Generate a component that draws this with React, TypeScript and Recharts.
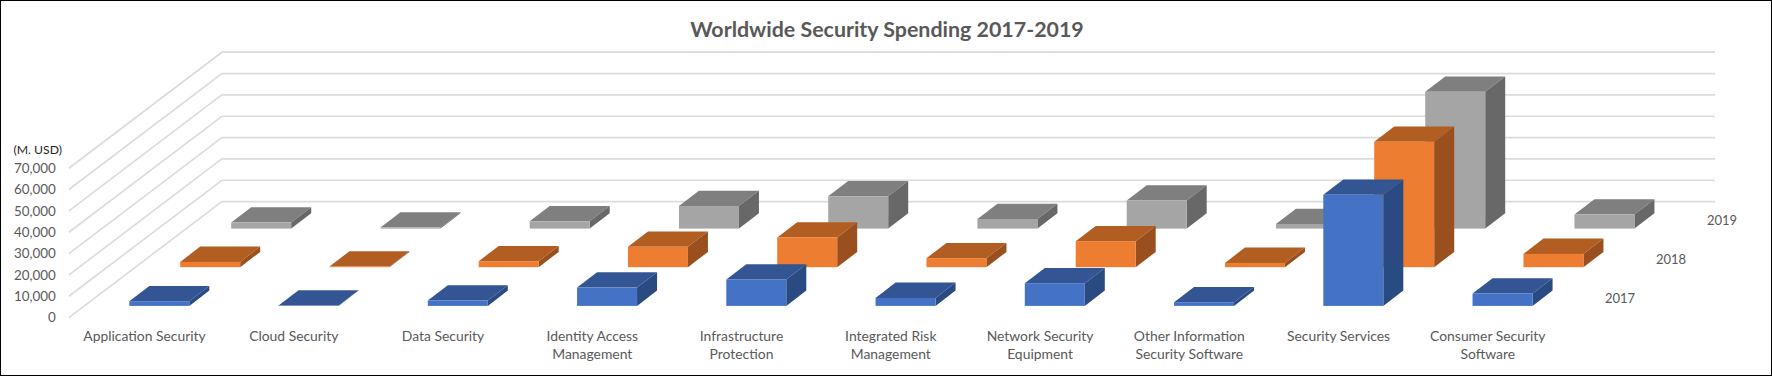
import React from "react";
import { ComposedChart, Bar, XAxis, YAxis, CartesianGrid } from "recharts";

const TITLE = "Worldwide Security Spending 2017-2019";
const UNIT = "(M. USD)";
const categories = [
  "Application Security",
  "Cloud Security",
  "Data Security",
  "Identity Access Management",
  "Infrastructure Protection",
  "Integrated Risk Management",
  "Network Security Equipment",
  "Other Information Security Software",
  "Security Services",
  "Consumer Security Software",
];
const values2017 = [2200, 190, 2530, 8600, 12380, 3750, 10640, 1730, 52030, 5800];
const values2018 = [2490, 300, 2810, 9540, 13900, 4220, 12190, 2020, 58750, 6240];
const values2019 = [2810, 460, 3420, 10600, 15150, 4500, 13130, 2170, 64080, 6560];
const yTicks = [0, 10000, 20000, 30000, 40000, 50000, 60000, 70000];

const rows = categories.map((name, i) => ({
  name,
  y2017: values2017[i],
  y2018: values2018[i],
  y2019: values2019[i],
}));

const TEXT = "#595959";
const FONT = "Lato, sans-serif";
const WALL_DX = 153;
const WALL_DY = -116;
const WALL_RIGHT = 1715;
const BAR_DX = 20;
const BAR_DY = -15.3;

const face3d = (front: string, top: string, side: string, offX: number, offY: number) => (p: any) => {
  const x = p.x + offX;
  const y = p.y + offY;
  const w = p.width;
  const h = p.height;
  return (
    <g>
      <polygon points={`${x},${y} ${x + BAR_DX},${y + BAR_DY} ${x + w + BAR_DX},${y + BAR_DY} ${x + w},${y}`} fill={top} />
      <polygon points={`${x + w},${y} ${x + w + BAR_DX},${y + BAR_DY} ${x + w + BAR_DX},${y + h + BAR_DY} ${x + w},${y + h}`} fill={side} />
      <rect x={x} y={y} width={w} height={h} fill={front} />
    </g>
  );
};

const wallLine = (p: any) => {
  const { x1, y1 } = p;
  return (
    <polyline
      key={p.key}
      points={`${x1 - 1},${y1} ${x1 - 1 + WALL_DX},${y1 + WALL_DY} ${WALL_RIGHT},${y1 + WALL_DY}`}
      fill="none"
      stroke="#DCDCDC"
      strokeWidth={1.7}
    />
  );
};

const wrap = (s: string) => {
  const lines: string[] = [];
  let cur = "";
  s.split(" ").forEach((w) => {
    const next = cur ? cur + " " + w : w;
    if (next.length > 21) {
      lines.push(cur);
      cur = w;
    } else cur = next;
  });
  lines.push(cur);
  return lines;
};

const CatTick = (p: any) => (
  <text x={p.x} y={341} textAnchor="middle" fill={TEXT} fontSize={13.9} fontFamily={FONT}>
    {wrap(p.payload.value).map((l, i) => (
      <tspan key={i} x={p.x} dy={i === 0 ? 0 : 18}>
        {l}
      </tspan>
    ))}
  </text>
);

export default function App() {
  return (
    <div
      style={{
        position: "absolute",
        left: 0,
        top: 0,
        width: 1772,
        height: 376,
        background: "#fff",
        boxSizing: "border-box",
      }}
    >
      <ComposedChart
        width={1772}
        height={376}
        data={rows}
        barSize={60}
        margin={{ top: 168.2, right: 209.6, bottom: 18.4, left: 0 }}
      >
        <CartesianGrid vertical={false} horizontal={wallLine} />
        <XAxis xAxisId="a" dataKey="name" axisLine={false} tickLine={false} height={40} interval={0} tick={CatTick} />
        <XAxis xAxisId="b" dataKey="name" hide />
        <XAxis xAxisId="c" dataKey="name" hide />
        <YAxis
          width={69.9}
          domain={[0, 70000]}
          ticks={yTicks}
          axisLine={false}
          tickLine={false}
          tickSize={0}
          tickMargin={14}
          interval={0}
          tick={{ fill: TEXT, fontSize: 13.4, fontFamily: FONT }}
          tickFormatter={(v: number) => v.toLocaleString("en-US")}
        />
        <Bar xAxisId="c" dataKey="y2019" name="2019" isAnimationActive={false} shape={face3d("#A5A5A5", "#7F7F7F", "#686868", 116.3, -89)} />
        <Bar xAxisId="b" dataKey="y2018" name="2018" isAnimationActive={false} shape={face3d("#ED7D31", "#B25E23", "#994F1E", 65.3, -50.4)} />
        <Bar xAxisId="a" dataKey="y2017" name="2017" isAnimationActive={false} shape={face3d("#4472C4", "#335593", "#2A4A82", 14.4, -11.7)} />
        <text x={887} y={36.5} textAnchor="middle" fontSize={21.4} fontWeight={700} fill={TEXT} fontFamily={FONT}>{TITLE}</text>
        <text x={13.5} y={154} fontSize={12.2} fill="#262626" fontFamily={FONT}>{UNIT}</text>
        <text x={1620} y={303} textAnchor="middle" fontSize={13} fill={TEXT} fontFamily={FONT}>2017</text>
        <text x={1671} y={264} textAnchor="middle" fontSize={13} fill={TEXT} fontFamily={FONT}>2018</text>
        <text x={1722} y={225} textAnchor="middle" fontSize={13} fill={TEXT} fontFamily={FONT}>2019</text>
      </ComposedChart>
      <div style={{ position: "absolute", inset: 0, border: "1.5px solid #000", pointerEvents: "none" }} />
    </div>
  );
}
